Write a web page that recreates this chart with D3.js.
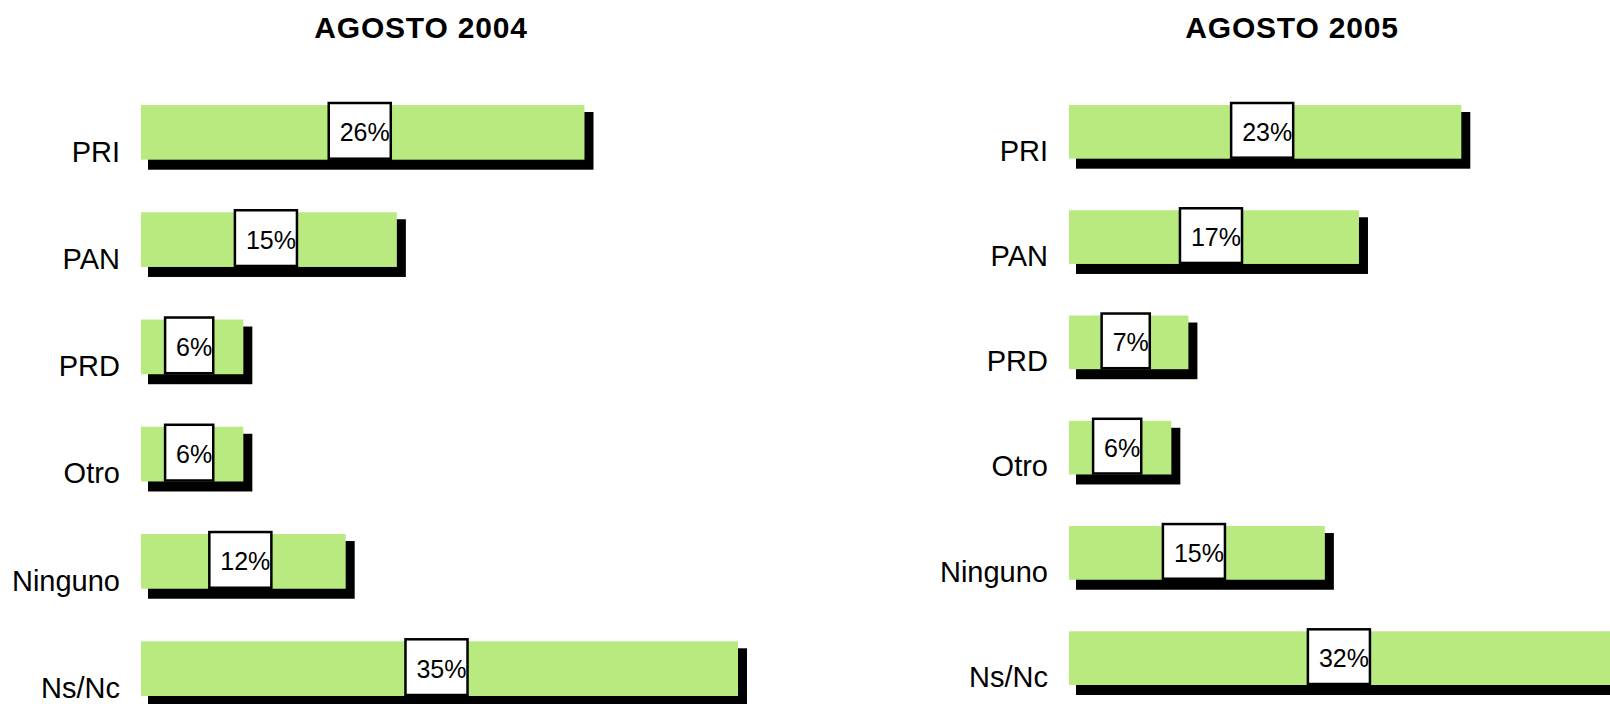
<!DOCTYPE html>
<html>
<head>
<meta charset="utf-8">
<script src="https://cdn.jsdelivr.net/npm/d3@7"></script>
<style>
  body { margin: 0; background: #fff; overflow: hidden; }
  svg { display: block; }
</style>
</head>
<body>
<div id="chart"></div>
<script>
/*
 * data
 */
const categories = ['PRI', 'PAN', 'PRD', 'Otro', 'Ninguno', 'Ns/Nc']
const titles = ['AGOSTO 2004', 'AGOSTO 2005']
const values2004 = [26, 15, 6, 6, 12, 35]
const values2005 = [23, 17, 7, 6, 15, 32]

/*
 * Initialize SVG
 */
const w = 1610
const h = 704
const svg = d3.select('#chart')
  .append('svg')
  .attr('width', w)
  .attr('height', h)

const green = '#b9ea80'
const font = "'Liberation Sans', Arial, sans-serif"

// px per percent is the same in both panels
const x = d3.scaleLinear()
  .domain([0, 35])
  .range([0, 597])

const panels = [
  { title: titles[0], values: values2004, left: 141, titleX: 421, yRange: [105, 696] },
  { title: titles[1], values: values2005, left: 1069, titleX: 1292, yRange: [105, 685] }
]

panels.forEach(p => drawPanel(p))

function drawPanel(p) {
  const y = d3.scaleBand()
    .domain(categories)
    .range(p.yRange)
    .paddingInner(0.49)
    .paddingOuter(0)

  const rows = categories.map((c, i) => ({ cat: c, value: p.values[i] }))

  const g = svg.append('g')
    .attr('transform', `translate(${p.left},0)`)

  svg.append('text')
    .attr('x', p.titleX)
    .attr('y', 38)
    .attr('text-anchor', 'middle')
    .style('font-family', font)
    .style('font-weight', 'bold')
    .style('font-size', '30px')
    .style('letter-spacing', '0.8px')
    .text(p.title)

  // shadows
  g.selectAll('rect.shadow')
    .data(rows)
    .enter()
    .append('rect')
    .attr('class', 'shadow')
    .attr('x', 7)
    .attr('y', d => y(d.cat) + 7)
    .attr('width', d => x(d.value) + 2)
    .attr('height', y.bandwidth() + 3)
    .style('fill', '#000')

  // bars
  g.selectAll('rect.bar')
    .data(rows)
    .enter()
    .append('rect')
    .attr('class', 'bar')
    .attr('x', 0)
    .attr('y', d => y(d.cat))
    .attr('width', d => x(d.value))
    .attr('height', y.bandwidth())
    .style('fill', green)

  // category labels
  g.selectAll('text.cat')
    .data(rows)
    .enter()
    .append('text')
    .attr('class', 'cat')
    .attr('x', -21)
    .attr('y', d => y(d.cat) + y.bandwidth() + 2)
    .attr('text-anchor', 'end')
    .style('font-family', font)
    .style('font-size', '29px')
    .text(d => d.cat)

  // value labels in white boxes
  const labels = g.selectAll('g.label')
    .data(rows)
    .enter()
    .append('g')
    .attr('class', 'label')

  const txt = labels.append('text')
    .style('font-family', font)
    .style('font-size', '25px')
    .attr('y', d => y(d.cat) + y.bandwidth() / 2 + 9)
    .text(d => d.value + '%')

  txt.each(function(d) {
    const tw = this.getComputedTextLength()
    const bw = tw + 12
    const bx = x(d.value) / 2 - 3 - bw / 2
    d3.select(this).attr('x', bx + 11)
    d3.select(this.parentNode)
      .insert('rect', 'text')
      .attr('x', bx)
      .attr('y', y(d.cat) - 2)
      .attr('width', bw)
      .attr('height', y.bandwidth() + 1)
      .style('fill', '#fff')
      .style('stroke', '#000')
      .style('stroke-width', 2.5)
  })
}
</script>
</body>
</html>
